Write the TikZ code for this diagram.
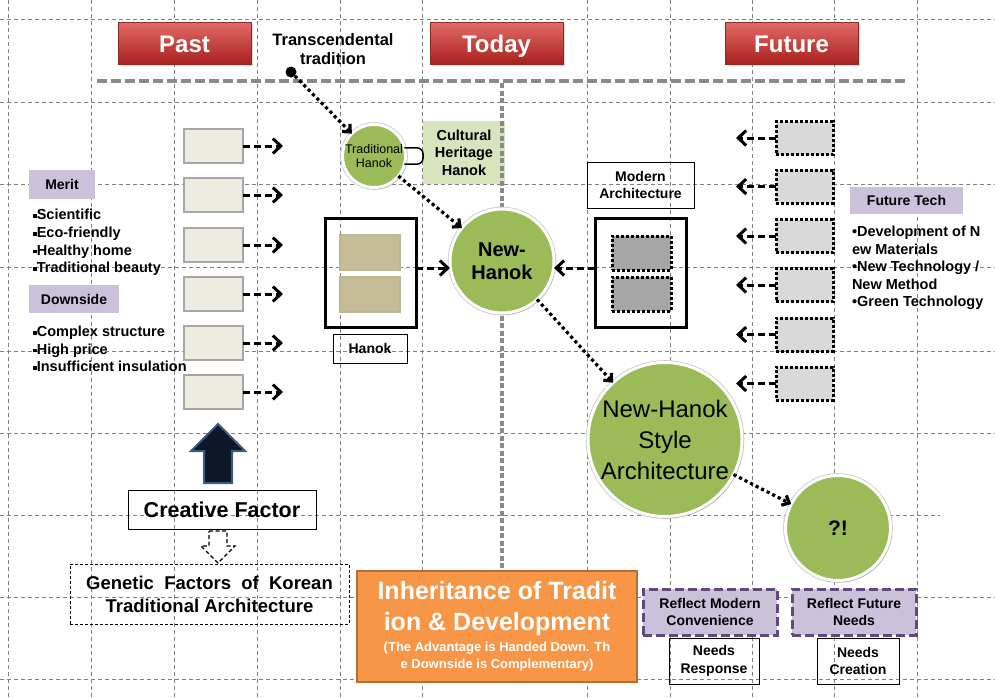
\documentclass[tikz,border=0pt]{standalone}
\usepackage{fontspec}
\setmainfont{Liberation Sans}
\usetikzlibrary{arrows.meta,shadows,calc}
\definecolor{gridc}{HTML}{808080}
\definecolor{hdrtop}{HTML}{E36C68}
\definecolor{hdrbot}{HTML}{A8201E}
\definecolor{hdrline}{HTML}{8C2A28}
\definecolor{greenc}{HTML}{9BBB59}
\definecolor{lgreen}{HTML}{D7E4BD}
\definecolor{lpurple}{HTML}{CCC1DA}
\definecolor{dpurple}{HTML}{604A7B}
\definecolor{beige}{HTML}{EEECE1}
\definecolor{beigeb}{HTML}{A6A6A6}
\definecolor{tanc}{HTML}{C4BD97}
\definecolor{tanb}{HTML}{BDB79A}
\definecolor{orangec}{HTML}{F79646}
\definecolor{oranged}{HTML}{B66D31}
\definecolor{navy}{HTML}{0C1828}
\definecolor{navyb}{HTML}{3B5C84}
\definecolor{midgray}{HTML}{8A8A8A}
\definecolor{ltgray}{HTML}{D9D9D9}
\definecolor{dkgray}{HTML}{A6A6A6}
\newcommand\mysq{\rule[1.7pt]{3.8pt}{3.8pt}}
\begin{document}
\begin{tikzpicture}[x=1pt,y=-1pt,
  every node/.style={inner sep=0pt, outer sep=0pt, align=center},
  gridline/.style={draw=gridc, line width=0.7, dash pattern=on 4 off 3},
  bigdash/.style={draw=midgray, line width=4, dash pattern=on 10 off 4},
  hdr/.style={rectangle, minimum width=133, minimum height=42, top color=hdrtop, bottom color=hdrbot, draw=hdrline, line width=0.8, text=white, font=\fontsize{24}{26}\selectfont\bfseries, text height=19, text depth=0, drop shadow={shadow xshift=1.5pt, shadow yshift=-1.5pt, opacity=0.3}},
  gcirc/.style={circle, fill=greenc, draw=white, line width=3, preaction={draw=black!22, line width=4.6}, drop shadow={shadow xshift=1.5pt, shadow yshift=-2pt, opacity=0.3}},
  lbl/.style={font=\fontsize{14}{17.5}\selectfont\bfseries},
  wbox/.style={rectangle, draw=black, line width=0.8, lbl},
  pbox/.style={rectangle, fill=lpurple, lbl},
  lbox/.style={rectangle, minimum width=59, minimum height=34, fill=beige, draw=beigeb, line width=2.5},
  fbox/.style={rectangle, minimum width=57, minimum height=33, fill=ltgray, draw=black, line width=3, dash pattern=on 3 off 2},
  dasharrow/.style={draw=black, line width=3, dash pattern=on 7 off 4, -{Straight Barb[length=8pt,width=15pt]}},
  dotarrow/.style={draw=black, line width=3.2, dash pattern=on 3.2 off 3, -{Straight Barb[length=6pt,width=11pt]}},
  rbox/.style={rectangle, fill=lpurple, draw=dpurple, line width=3, dash pattern=on 9 off 4, lbl},
]
\useasboundingbox (0,0) rectangle (995,697);
\fill[white] (0,0) rectangle (995,697);
% grid
\foreach \gx in {8,91,174,257,340,422,587,670,752,834,917}
  \draw[gridline] (\gx,0) -- (\gx,697);
\foreach \gy in {19,102,184,267,351,433,597,679}
  \draw[gridline] (0,\gy) -- (995,\gy);
\draw[gridline] (0,515) -- (940,515);

% headers
\node[hdr] (past) at (184.5,43) {Past};
\node[hdr] (today) at (496.5,43) {Today};
\node[hdr] (future) at (791.5,43) {Future};
\node[font=\fontsize{16.5}{19}\selectfont\bfseries] (trans) at (333,49) {Transcendental\\tradition};

% timeline lines
\draw[bigdash] (97,81) -- (908,81);

% cultural heritage
\node[rectangle, fill=lgreen, minimum width=82, minimum height=63, font=\fontsize{14.5}{17.5}\selectfont\bfseries] (CH) at (464,152.5) {Cultural\\Heritage\\Hanok};
\draw[bigdash, dash pattern=on 5 off 2.5] (502,83) -- (502,570);

% left column
\node[pbox, minimum width=66, minimum height=29] (merit) at (62,184.5) {Merit};
\node[anchor=west, align=left, font=\fontsize{14.5}{17.7}\selectfont\bfseries] (meritlist) at (33,242.5) {\mysq Scientific\\\mysq Eco-friendly\\\mysq Healthy home\\\mysq Traditional beauty};
\node[pbox, minimum width=90, minimum height=28] (down) at (74,299) {Downside};
\node[anchor=west, align=left, font=\fontsize{14.5}{17.7}\selectfont\bfseries] (downlist) at (33,349) {\mysq Complex structure\\\mysq High price\\\mysq Insufficient insulation};

\foreach \i/\yy in {1/146,2/195,3/245,4/294,5/343,6/392}{
  \node[lbox] (L\i) at (213.5,\yy) {};
  \coordinate (La\i) at (283,\yy);
  \draw[dasharrow] (L\i.east) -- (La\i);
}

% up arrow
\draw[fill=navy, draw=navyb, line width=2, line join=miter] (218,424) -- (245,451) -- (232,451) -- (232,483) -- (204,483) -- (204,451) -- (191,451) -- cycle;
\node[wbox, minimum width=188, minimum height=39, font=\fontsize{21.5}{24}\selectfont\bfseries] (CF) at (222,509.5) {Creative Factor};
\draw[draw=black, fill=white, line width=1.3, dash pattern=on 4 off 2.5, line join=miter] (209,531) -- (227,531) -- (227,546) -- (235,546) -- (218,563) -- (201,546) -- (209,546) -- cycle;
\node[rectangle, draw=black, line width=0.8, dash pattern=on 3 off 2, minimum width=279, minimum height=60, font=\fontsize{18.5}{23}\selectfont\bfseries] (GF) at (209.5,594) {Genetic\ \ Factors\ \ of\ \ Korean\\Traditional Architecture};

% Hanok box
\node[rectangle, draw=black, line width=3, minimum width=91, minimum height=109] (HB) at (370.5,272.5) {};
\node[rectangle, fill=tanc, draw=tanb, line width=1.2, minimum width=60, minimum height=35] (HB1) at (370,252.5) {};
\node[rectangle, fill=tanc, draw=tanb, line width=1.2, minimum width=60, minimum height=35] (HB2) at (370,294.5) {};
\node[wbox, minimum width=74, minimum height=29] (HL) at (370,348.5) {Hanok};

% Modern box
\node[wbox, minimum width=107, minimum height=46] (ML) at (640.5,185) {Modern\\Architecture};
\node[rectangle, draw=black, line width=3, minimum width=91, minimum height=109] (MB) at (640.5,272.5) {};
\node[rectangle, fill=dkgray, draw=black, line width=3, dash pattern=on 3 off 2, minimum width=59, minimum height=34] (MB1) at (641.5,253) {};
\node[rectangle, fill=dkgray, draw=black, line width=3, dash pattern=on 3 off 2, minimum width=59, minimum height=34] (MB2) at (641.5,294) {};

% future column
\foreach \i/\yy in {1/138,2/186.5,3/236,4/285,5/334.5,6/383.5}{
  \node[fbox] (F\i) at (804.5,\yy) {};
  \coordinate (Fa\i) at (736,\yy);
  \draw[dasharrow] (F\i.west) -- (Fa\i);
}
\node[pbox, minimum width=113, minimum height=27] (FT) at (906.5,200.5) {Future Tech};
\node[anchor=west, align=left, font=\fontsize{14.5}{17.5}\selectfont\bfseries] (FTlist) at (852,268) {•Development of N\\ew Materials\\•New Technology /\\New Method\\•Green Technology};

% circles
\node[fill=black, circle, minimum size=11] (dot) at (291,72) {};
\node[gcirc, minimum size=63, font=\fontsize{12.5}{14}\selectfont] (TH) at (374,156) {Traditional\\Hanok};
\node[gcirc, minimum size=104, font=\fontsize{20}{23.5}\selectfont\bfseries] (NH) at (502,261) {New-\\Hanok};
\node[gcirc, minimum size=154, font=\fontsize{24}{31}\selectfont] (NS) at (665,439.5) {New-Hanok\\Style\\Architecture};
\node[gcirc, minimum size=105, font=\fontsize{21}{24}\selectfont\bfseries] (Q) at (838,528) {?!};

\draw[line width=1.5, rounded corners=6] (TH.15) -- (TH.15 -| CH.west) |- (TH.-15);

% connectors
\draw[dotarrow] (dot) -- (TH);
\draw[dotarrow] (TH) -- (NH);
\draw[dotarrow] (NH) -- (NS);
\draw[dotarrow] (NS) -- (Q);
\draw[dasharrow] (HB.east |- 0,268) -- (NH.west |- 0,268);
\draw[dasharrow] (MB.west |- 0,268) -- (NH.east |- 0,268);

% bottom
\node[rectangle, fill=orangec, draw=oranged, line width=2, minimum width=280, minimum height=111, drop shadow={shadow xshift=1.2pt, shadow yshift=-1.2pt, opacity=0.25}] (OB) at (497,626.5) {};
\node[text=white, font=\fontsize{25}{31}\selectfont\bfseries] (OBt) at (497,608.5) {Inheritance of Tradit\\ion \& Development};
\node[text=white, font=\fontsize{13}{17}\selectfont\bfseries] (OBs) at (497,656.5) {(The Advantage is Handed Down. Th\\e Downside is Complementary)};

\node[rbox, minimum width=134, minimum height=46] (RM) at (710,612) {Reflect Modern\\Convenience};
\node[rbox, minimum width=124, minimum height=46] (RF) at (854,612) {Reflect Future\\Needs};
\node[wbox, minimum width=90, minimum height=46] (NR) at (714,661) {Needs\\Response};
\node[wbox, minimum width=82, minimum height=46] (NC) at (858,661) {Needs\\Creation};
\end{tikzpicture}
\end{document}
